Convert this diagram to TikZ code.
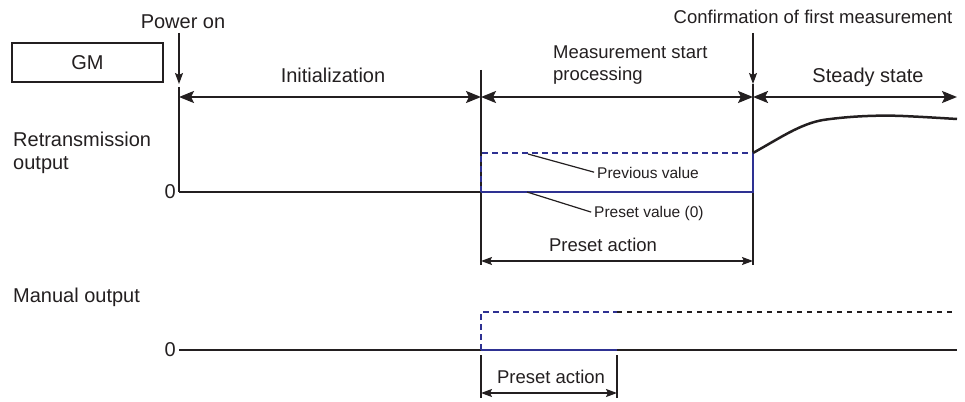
\documentclass[tikz,border=0pt]{standalone}
\usepackage{fontspec}
\setmainfont{Liberation Sans}
\usetikzlibrary{arrows.meta}
\definecolor{ink}{HTML}{231F20}
\definecolor{sigblue}{HTML}{2E3192}
\tikzset{
  big/.style={font=\fontsize{20}{23}\selectfont, text=ink, inner sep=0pt},
  mid/.style={font=\fontsize{18.5}{22}\selectfont, text=ink, inner sep=0pt},
  small/.style={font=\fontsize{15.5}{18}\selectfont, text=ink, inner sep=0pt},
  thinline/.style={draw=ink, line width=1.4pt},
  baseln/.style={draw=ink, line width=2.5pt},
  blueln/.style={draw=sigblue, line width=2.8pt},
  bluedash/.style={draw=sigblue, line width=2.8pt, dash pattern=on 6pt off 4pt},
  blackdash/.style={draw=ink, line width=1.7pt, dash pattern=on 5pt off 5pt},
  spanarrow/.style={draw=ink, line width=2.2pt, {Stealth[length=15pt,width=12pt,inset=3pt]}-{Stealth[length=15pt,width=12pt,inset=3pt]}},
  actarrow/.style={draw=ink, line width=1.5pt, {Stealth[length=11pt,width=8pt,inset=2pt]}-{Stealth[length=11pt,width=8pt,inset=2pt]}},
  markarrow/.style={draw=ink, line width=1.4pt, -{Stealth[length=11pt,width=8pt,inset=2pt]}},
  leader/.style={draw=ink, line width=1.2pt, shorten >=3pt},
}
\begin{document}
\begin{tikzpicture}[x=1pt,y=-1pt]
\useasboundingbox (0,0) rectangle (965,401);
% ---- top labels
\node[big] (pwr) at (183,22) {Power on};
\node[mid] (conf) at (813,17) {Confirmation of first measurement};
\node[draw=ink, line width=2pt, minimum width=151pt, minimum height=39pt, big] (gm) at (87.5,62.5) {GM};
\node[big] (init) at (333,75) {Initialization};
\node[mid, anchor=west, align=left] (msp) at (553,65) {Measurement start\\processing};
\node[big] (steady) at (868,77) {Steady state};
\node[big, anchor=west, align=left] (retx) at (13,153) {Retransmission\\output};
\node[big, anchor=east] (zero1) at (176,192) {0};
\node[big, anchor=west] (manual) at (13,297) {Manual output};
\node[big, anchor=east] (zero2) at (176,350) {0};
% ---- coordinates
\coordinate (pTop) at (179,33);
\coordinate (pTip) at (179,84);
\coordinate (pV1) at (179,87);
\coordinate (pB1) at (179,192);
\coordinate (cTop) at (753,33);
\coordinate (cTip) at (753,84);
\coordinate (cV2) at (753,265);
\coordinate (mTop) at (481,70);
\coordinate (mBot) at (481,265);
\coordinate (aL) at (179,97);
\coordinate (aM) at (481,97);
\coordinate (aC) at (753,97);
\coordinate (aR) at (957,97);
% retransmission signal
\coordinate (r0) at (481,192);
\coordinate (r1) at (753,192);
\coordinate (rHi0) at (481,153);
\coordinate (rHi1) at (753,153);
% ---- marker arrows
\draw[markarrow] (pTop) -- (pTip);
\draw[markarrow] (cTop) -- (cTip);
\draw[thinline] (pV1) -- (pB1);
\draw[thinline] (mTop) -- (mBot);
\draw[thinline] (cTip) -- (cV2);
% ---- phase arrows
\draw[spanarrow] (aL) -- (aM);
\draw[spanarrow] (aM) -- (aC);
\draw[spanarrow] (aC) -- (aR);
% ---- retransmission output
\draw[baseln] (pB1) -- (r0);
\draw[bluedash] (r0) -- (rHi0) -- (rHi1);
\draw[blueln] (r0) -- (r1) -- (rHi1);
\draw[ink, line width=2.5pt] (rHi1) .. controls (780,138) and (800,124) .. (823,120)
   .. controls (850,116) and (880,115) .. (903,116) .. controls (925,117) and (940,118) .. (957,119);
% leaders
\node[small, anchor=west] (prev) at (597,173) {Previous value};
\node[small, anchor=west] (pres) at (594,213) {Preset value (0)};
\coordinate (prevS) at (528,154);
\coordinate (presS) at (527,192);
\draw[leader] (prevS) -- (prev.west);
\draw[leader] (presS) -- (pres.west);
% preset action (retransmission)
\node[mid] (pa1) at (603,245) {Preset action};
\coordinate (pa1L) at (481,261);
\coordinate (pa1R) at (753,261);
\draw[actarrow] (pa1L) -- (pa1R);
% ---- manual output
\coordinate (m0) at (179,350);
\coordinate (m1) at (481,350);
\coordinate (m2) at (617,350);
\coordinate (m3) at (957,350);
\coordinate (mh1) at (481,312);
\coordinate (mh2) at (617,312);
\coordinate (mh3) at (953,312);
\draw[baseln] (m0) -- (m1);
\draw[baseln] (m2) -- (m3);
\draw[blackdash] (mh2) -- (mh3);
\draw[bluedash] (m1) -- (mh1) -- (mh2);
\draw[blueln] (m1) -- (m2);
\coordinate (v1a) at (481,355);
\coordinate (v1b) at (481,398);
\coordinate (v2a) at (617,355);
\coordinate (v2b) at (617,398);
\draw[thinline] (v1a) -- (v1b);
\draw[thinline] (v2a) -- (v2b);
\node[mid] (pa2) at (551,377) {Preset action};
\coordinate (pa2L) at (481,393);
\coordinate (pa2R) at (617,393);
\draw[actarrow] (pa2L) -- (pa2R);
\end{tikzpicture}
\end{document}
